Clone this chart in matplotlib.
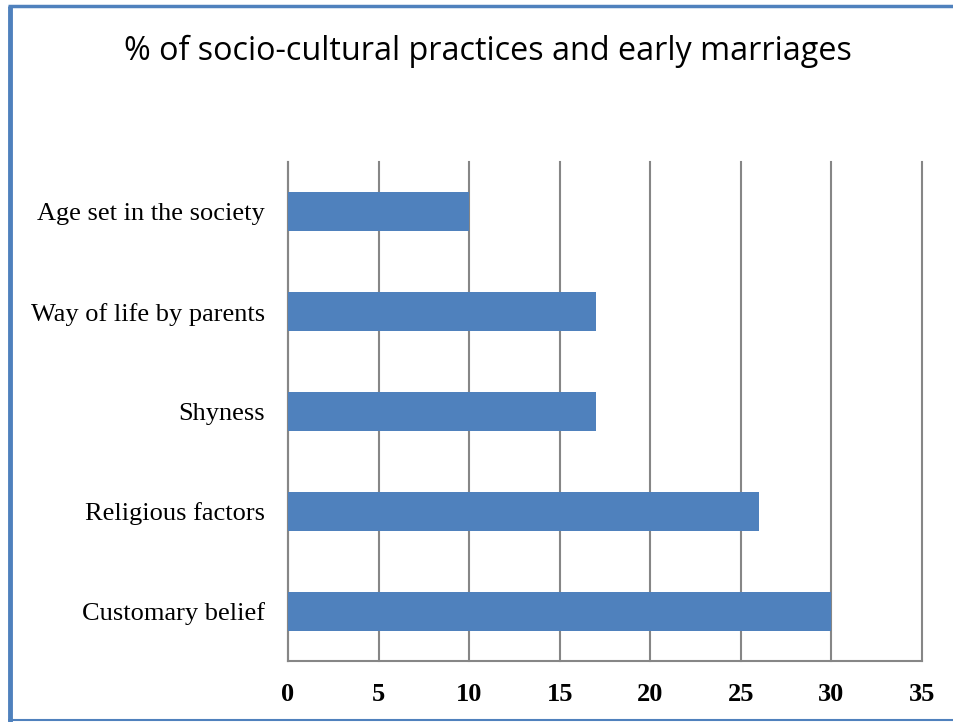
import matplotlib.pyplot as plt
from matplotlib.lines import Line2D

categories = ['Customary belief', 'Religious factors', 'Shyness',
              'Way of life by parents', 'Age set in the society']
values = [30, 26, 17, 17, 10]
xticks = [0, 5, 10, 15, 20, 25, 30, 35]

fig = plt.figure(figsize=(9.54, 7.22), dpi=100)
ax = fig.add_axes([288 / 954, 1 - 661 / 722, 634 / 954, 499 / 722])

ax.barh(range(len(categories)), values, height=0.39, color='#4F81BD', zorder=3)
ax.set_ylim(-0.5, len(categories) - 0.5)
ax.set_xlim(0, 35)
ax.set_xticks(xticks)
ax.set_yticks(range(len(categories)))
ax.set_yticklabels(categories, fontfamily='Liberation Serif', fontsize=19)
ax.set_xticklabels([str(t) for t in xticks], fontfamily='Liberation Serif',
                   fontsize=19, fontweight='bold')
ax.tick_params(axis='both', length=0)
ax.tick_params(axis='x', pad=16)
ax.tick_params(axis='y', pad=16.5)
ax.grid(axis='x', color='#868686', linewidth=1.5, zorder=0)
for gl in ax.get_xgridlines():
    gl.set_clip_on(False)
for s in ['top', 'right']:
    ax.spines[s].set_visible(False)
for s in ['left', 'bottom']:
    ax.spines[s].set_color('#868686')
    ax.spines[s].set_linewidth(1.5)

fig.text(488 / 954, 1 - 51 / 722, '% of socio-cultural practices and early marriages',
         ha='center', va='center', fontsize=23.3, fontfamily='Open Sans')

# outer blue frame
fig.add_artist(Line2D([10 / 954, 10 / 954], [0, 1 - 6 / 722], transform=fig.transFigure,
                      color='#4F81BD', linewidth=3.5, solid_capstyle='butt'))
fig.add_artist(Line2D([8 / 954, 1], [1 - 6 / 722, 1 - 6 / 722], transform=fig.transFigure,
                      color='#4F81BD', linewidth=2.5, solid_capstyle='butt'))
fig.add_artist(Line2D([8 / 954, 1], [1 - 720 / 722, 1 - 720 / 722], transform=fig.transFigure,
                      color='#4F81BD', linewidth=1.5, solid_capstyle='butt'))

fig.savefig('out.png', dpi=100)
